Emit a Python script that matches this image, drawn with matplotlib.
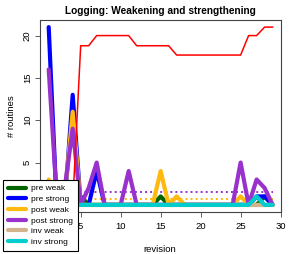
import numpy as np
import matplotlib
matplotlib.use('Agg')
import matplotlib.pyplot as plt

plt.rcParams['font.family'] = 'Liberation Sans'

revision = list(range(1, 30))
pre_weak    = [0, 0, 0, 1, 1, 0, 0, 0, 0, 0, 0, 0, 0, 0, 1, 0, 0, 0, 0, 0, 0, 0, 0, 0, 0, 0, 0, 1, 0]
pre_strong  = [21, 0, 0, 13, 0, 0, 4, 0, 0, 0, 0, 0, 0, 0, 0, 0, 0, 0, 0, 0, 0, 0, 0, 0, 0, 0, 1, 1, 0]
post_weak   = [3, 0, 1, 11, 0, 0, 0, 0, 0, 0, 0, 0, 0, 0, 4, 0, 1, 0, 0, 0, 0, 0, 0, 0, 1, 0, 0, 0, 0]
post_strong = [16, 1, 2, 9, 0, 2, 5, 0, 0, 0, 4, 0, 0, 0, 0, 0, 0, 0, 0, 0, 0, 0, 0, 0, 5, 0, 3, 2, 0]
inv_weak    = [0] * 29
inv_strong  = [0, 0, 0, 0, 0, 0, 0, 0, 0, 0, 0, 0, 0, 0, 0, 0, 0, 0, 0, 0, 0, 0, 0, 0, 0, 0, 1, 0, 0]
total       = [0, 0, 0, 0, 18.8, 18.8, 20, 20, 20, 20, 20, 18.8, 18.8, 18.8, 18.8, 18.8, 17.7, 17.7,
               17.7, 17.7, 17.7, 17.7, 17.7, 17.7, 17.7, 20, 20, 21, 21]

labels = ['pre weak', 'pre strong', 'post weak', 'post strong', 'inv weak', 'inv strong']
series = [pre_weak, pre_strong, post_weak, post_strong, inv_weak, inv_strong]
colors = ['#006400', '#0000FF', '#FFB90F', '#9932CC', '#D2B48C', '#00CDCD']

# dotted average levels (green, orange, purple)
avg_labels = ['pre weak', 'post weak', 'post strong']
avg_levels = [0.15, 0.65, 1.5]

fig = plt.figure(figsize=(2.94, 2.54), dpi=100)
ax = fig.add_axes([39.5 / 294, 42 / 254, 241.5 / 294, 192 / 254])

for lab, lev in zip(avg_labels, avg_levels):
    c = colors[labels.index(lab)]
    ax.plot([revision[0], revision[-1]], [lev, lev], color=c, lw=1.4,
            linestyle=(0, (1, 1.6)), dash_capstyle='butt')

handles = []
for s, c, lab in zip(series, colors, labels):
    h, = ax.plot(revision, s, color=c, lw=3.0, label=lab,
                 solid_capstyle='round', solid_joinstyle='round')
    handles.append(h)

ax.plot(revision, total, color='#FF0000', lw=1.1, solid_joinstyle='round')

ax.set_xlim(-0.15, 30.05)
ax.set_ylim(-0.84, 21.84)
ax.set_xticks([5, 10, 15, 20, 25, 30])
ax.set_yticks([0, 5, 10, 15, 20])
ax.tick_params(labelsize=6.8, length=3.5, width=0.6, color='#444444')
ax.tick_params(axis='x', pad=4)
ax.tick_params(axis='y', pad=2)
for t in ax.get_yticklabels():
    t.set_rotation(90)
    t.set_va('center')
for sp in ax.spines.values():
    sp.set_color('#444444')
    sp.set_linewidth(0.8)

ax.set_xlabel('revision', fontsize=6.8, labelpad=10)
ax.set_ylabel('# routines', fontsize=6.8, labelpad=5)
ax.set_title('Logging: Weakening and strengthening', fontsize=7.3, fontweight='bold', pad=4)

leg = fig.legend(handles=handles, labels=labels, loc='upper left',
                 bbox_to_anchor=(3 / 294, 1 - 180 / 254), fontsize=6,
                 frameon=True, fancybox=False, edgecolor='black', framealpha=1,
                 handlelength=2.25, handletextpad=0.6, labelspacing=0.35,
                 borderpad=0.55, borderaxespad=0)
leg.get_frame().set_linewidth(0.8)

fig.savefig('out.png', dpi=100)
